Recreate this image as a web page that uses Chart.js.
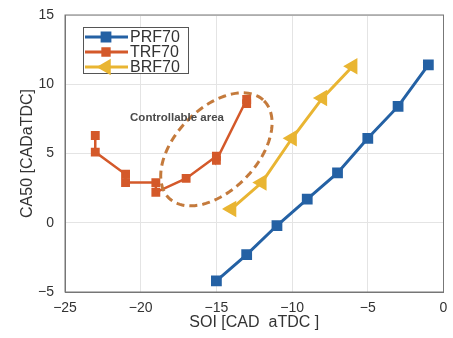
<!DOCTYPE html>
<html lang="en">
<head>
<meta charset="UTF-8">
<title>CA50 vs SOI</title>
<style>
  html, body { margin: 0; padding: 0; background: #fff; }
  #wrap { width: 453px; height: 338px; }
</style>
</head>
<body>
<div id="wrap"><canvas id="chart" width="453" height="338"></canvas></div>
<script src="https://cdn.jsdelivr.net/npm/chart.js"></script>
<script>
// series
const seriesLabels = ['PRF70', 'TRF70', 'BRF70'];

const prfX = [-15, -13, -11, -9, -7, -5, -3, -1];
const prfY = [-4.2, -2.3, -0.2, 1.7, 3.6, 6.1, 8.4, 11.4];

// TRF70 has two markers at most SOI values (spread bars)
const trfX = [-23, -23, -21, -21, -19, -19, -17, -15, -15, -13, -13];
const trfY = [6.3, 5.1, 3.5, 2.9, 2.9, 2.2, 3.2, 4.8, 4.5, 8.9, 8.6];

const brfX = [-14, -12, -10, -8, -6];
const brfY = [1.0, 2.9, 6.1, 9.0, 11.3];

const xTicks = [-25, -20, -15, -10, -5, 0];
const yTicks = [-5, 0, 5, 10, 15];

const noteText = 'Controllable area';

const colors = ['#2461a4', '#d4592a', '#e9b532'];

function pts(xs, ys) { return xs.map((x, i) => ({ x: x, y: ys[i] })); }
function minus(v) { return String(v).replace('-', '\u2212'); }

// dashed ellipse + note, placed in data units
const ellipsePlugin = {
    id: 'ellipse',
    afterDatasetsDraw(chart) {
        const { ctx, scales: { x, y } } = chart;
        const c = { x: -15.0, y: 5.3 };
        const a = { x: 3.15, y: 3.5 };    // major half-axis (data)
        const b = { x: 1.9, y: -2.1 };    // minor half-axis (data)
        ctx.save();
        ctx.beginPath();
        for (let i = 0; i <= 120; i++) {
            const t = i / 120 * Math.PI * 2;
            const px = x.getPixelForValue(c.x + a.x * Math.cos(t) + b.x * Math.sin(t));
            const py = y.getPixelForValue(c.y + a.y * Math.cos(t) + b.y * Math.sin(t));
            if (i === 0) ctx.moveTo(px, py); else ctx.lineTo(px, py);
        }
        ctx.strokeStyle = '#c47a3c';
        ctx.lineWidth = 3;
        ctx.setLineDash([8, 5]);
        ctx.stroke();
        ctx.setLineDash([]);
        ctx.font = 'bold 11.5px "Liberation Sans", Arial, sans-serif';
        ctx.fillStyle = '#4a4a4a';
        ctx.textAlign = 'center';
        ctx.textBaseline = 'middle';
        ctx.fillText(noteText, x.getPixelForValue(-17.6), y.getPixelForValue(7.6));
        ctx.restore();
    }
};

// boxed legend in the upper-left corner, line + marker like the original
const boxLegend = {
    id: 'boxLegend',
    afterDraw(chart) {
        const { ctx, chartArea } = chart;
        const left = chartArea.left + 18, top = chartArea.top + 12;
        const w = 105, h = 46;
        ctx.save();
        ctx.fillStyle = '#fff';
        ctx.fillRect(left, top, w, h);
        ctx.strokeStyle = '#555';
        ctx.lineWidth = 1;
        ctx.strokeRect(left + 0.5, top + 0.5, w, h);
        ctx.font = '16px "Liberation Sans", Arial, sans-serif';
        ctx.textBaseline = 'middle';
        chart.data.datasets.forEach((ds, i) => {
            const yy = top + 10 + i * 15;
            ctx.strokeStyle = ds.borderColor;
            ctx.lineWidth = 3;
            ctx.beginPath();
            ctx.moveTo(left + 2, yy);
            ctx.lineTo(left + 45, yy);
            ctx.stroke();
            Chart.helpers.drawPoint(ctx, {
                pointStyle: ds.pointStyle,
                rotation: ds.rotation || 0,
                radius: ds.pointRadius,
                borderWidth: 1
            }, left + 23, yy);
            ctx.fillStyle = ds.backgroundColor;
            ctx.strokeStyle = ds.borderColor;
            ctx.fill();
            ctx.fillStyle = '#333';
            ctx.fillText(ds.label, left + 47, yy + 1);
        });
        ctx.restore();
    }
};

const tickFont = { family: '"Liberation Sans", Arial, sans-serif', size: 14 };

new Chart(document.getElementById('chart'), {
    type: 'scatter',
    data: {
        datasets: [
            {
                label: seriesLabels[0], data: pts(prfX, prfY), showLine: true,
                borderColor: colors[0], backgroundColor: colors[0], borderWidth: 3,
                pointStyle: 'rect', pointRadius: 5.5, pointHoverRadius: 5.5
            },
            {
                label: seriesLabels[1], data: pts(trfX, trfY), showLine: true,
                borderColor: colors[1], backgroundColor: colors[1], borderWidth: 2.5,
                pointStyle: 'rect', pointRadius: 4.5, pointHoverRadius: 4.5
            },
            {
                label: seriesLabels[2], data: pts(brfX, brfY), showLine: true,
                borderColor: colors[2], backgroundColor: colors[2], borderWidth: 3,
                pointStyle: 'triangle', rotation: -90, pointRadius: 6.5, pointHoverRadius: 6.5
            }
        ]
    },
    options: {
        responsive: false,
        animation: false,
        layout: { padding: { left: 18, right: 4, top: 15, bottom: 6 } },
        plugins: { legend: { display: false }, tooltip: { enabled: false } },
        scales: {
            x: {
                type: 'linear', min: -25, max: 0,
                afterBuildTicks: s => { s.ticks = xTicks.map(v => ({ value: v })); },
                afterFit: s => { s.height = 40; s.paddingLeft = 0; s.paddingRight = 0; },
                ticks: { color: '#333', font: tickFont, padding: 8, callback: minus, maxRotation: 0 },
                grid: { color: '#e4e4e4', drawTicks: false },
                border: { color: '#777' },
                title: {
                    display: true, text: 'SOI [CAD  aTDC ]', color: '#333',
                    font: { family: '"Liberation Sans", Arial, sans-serif', size: 16 },
                    padding: { top: 0, bottom: 0 }
                }
            },
            y: {
                min: -5, max: 15,
                afterBuildTicks: s => { s.ticks = yTicks.map(v => ({ value: v })); },
                afterFit: s => { s.width = 47; s.paddingTop = 0; s.paddingBottom = 0; },
                ticks: { color: '#333', font: tickFont, padding: 11, callback: minus },
                grid: { color: '#e4e4e4', drawTicks: false },
                border: { color: '#777' },
                title: {
                    display: true, text: 'CA50 [CADaTDC]', color: '#333',
                    font: { family: '"Liberation Sans", Arial, sans-serif', size: 16 },
                    padding: { top: 0, bottom: 0 }
                }
            }
        }
    },
    plugins: [ellipsePlugin, boxLegend, {
        id: 'frame',
        afterDraw(chart) {
            const { ctx, chartArea: a } = chart;
            ctx.save();
            ctx.strokeStyle = '#777';
            ctx.lineWidth = 1;
            ctx.strokeRect(a.left, a.top, a.right - a.left, a.bottom - a.top);
            ctx.restore();
        }
    }]
});
</script>
</body>
</html>
